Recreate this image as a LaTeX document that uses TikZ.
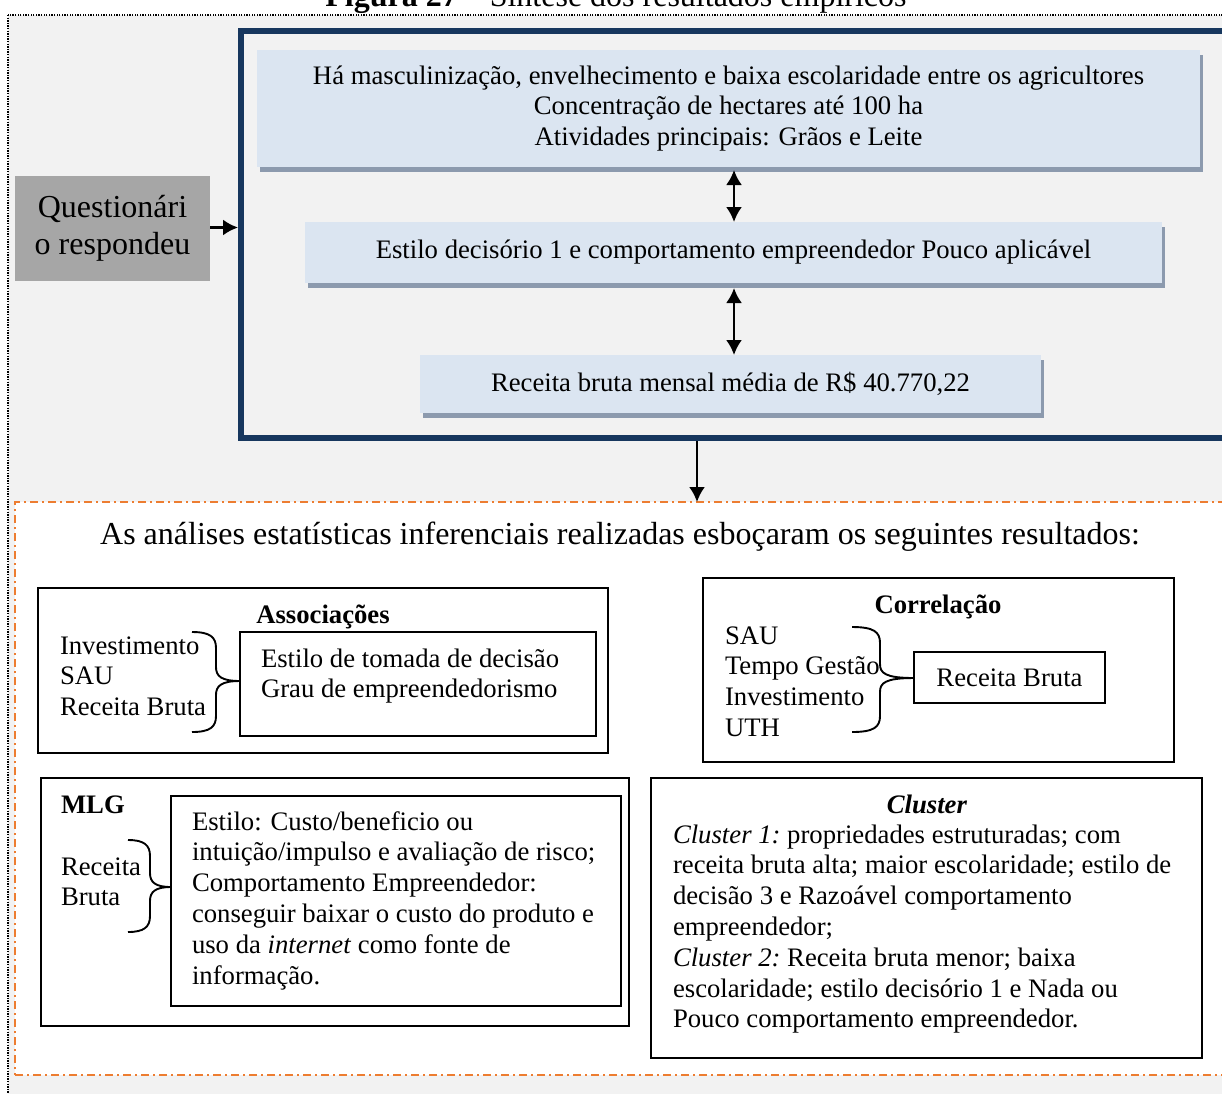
\documentclass[tikz,border=0pt]{standalone}
\usepackage{fontspec}
\setmainfont{Liberation Serif}
\usetikzlibrary{arrows.meta,shadows,calc}

\definecolor{bggray}{HTML}{F2F2F2}
\definecolor{boxblue}{HTML}{DBE5F1}
\definecolor{shadowblue}{HTML}{8C9AAE}
\definecolor{navy}{HTML}{17375E}
\definecolor{questgray}{HTML}{A6A6A6}
\definecolor{dashorange}{HTML}{ED7D31}

% invisible rule that fixes the height of the first line of a text block
\newcommand\topstrut{\vrule height 22pt width 0pt\relax}

% curly brace: left x, spine x, tip x, top y, middle y, bottom y
\newcommand\curlybrace[6]{%
  \draw[bracepath] (#1,#4) .. controls ({#2-6},#4) and (#2,{#4+5}) .. (#2,{#4+16})
    -- (#2,{#5-14}) .. controls (#2,{#5-5}) and ({#2+5},#5) .. (#3,#5)
    .. controls ({#2+5},#5) and (#2,{#5+5}) .. (#2,{#5+14})
    -- (#2,{#6-16}) .. controls (#2,{#6-5}) and ({#2-6},#6) .. (#1,#6);}

\begin{document}
\begin{tikzpicture}[x=1pt,y=-1pt,
  every node/.style={inner sep=0pt, outer sep=0pt},
  body/.style={font=\fontsize{26.7}{30.8}\selectfont},
  bodybold/.style={font=\fontsize{26.7}{30.8}\selectfont\bfseries},
  big/.style={font=\fontsize{32}{37}\selectfont},
  infobox/.style={fill=boxblue, body, align=center,
    general shadow={fill=shadowblue, shadow xshift=3pt, shadow yshift=-5pt}},
  plainbox/.style={draw=black, line width=1.8pt},
  textblock/.style={body, align=left, anchor=north west},
  arr/.style={line width=2.4pt, -{Latex[length=15pt,width=16pt]}},
  dblarr/.style={line width=2.4pt, {Latex[length=15pt,width=16pt]}-{Latex[length=15pt,width=16pt]}},
  bracepath/.style={line width=1.9pt, line join=round}
]
\clip (0,0) rectangle (1222,1093);
\useasboundingbox (0,0) rectangle (1222,1093);

% page background and dotted outer frame
\fill[white] (0,0) rectangle (1222,1093);
\path[fill=bggray, draw=black, line width=1.3pt, dash pattern=on 1.3pt off 1.3pt]
  (8,15) rectangle (1280,1130);

% caption
\node[big, anchor=base] (title) at (616,6) {\textbf{Figura 27} – Síntese dos resultados empíricos};

% navy frame around the descriptive results
\node[draw=navy, line width=6pt, minimum width=1040pt, minimum height=407pt, anchor=north west]
  (frame) at (241,31) {};

\node[fill=questgray, minimum width=195pt, minimum height=105pt, big, align=center]
  (quest) at (112.5,228.5) {Questionári\\o respondeu};

\node[infobox, minimum width=943pt, minimum height=117pt] (facts) at (728.5,108.5)
  {Há masculinização, envelhecimento e baixa escolaridade entre os agricultores\\
   Concentração de hectares até 100 ha\\Atividades principais: Grãos e Leite};
\node[infobox, minimum width=857pt, minimum height=61pt] (style) at (733.5,252.5)
  {Estilo decisório 1 e comportamento empreendedor Pouco aplicável};
\node[infobox, minimum width=621pt, minimum height=58pt] (income) at (730.5,384)
  {Receita bruta mensal média de R\$ 40.770,22};

\coordinate (ax) at (734,0);
\coordinate (dx) at (697,0);

\draw[arr] ([yshift=1pt]quest.east) -- ([yshift=1pt,xshift=-3pt]quest.east -| frame.west);
\draw[dblarr] ([yshift=-3pt]facts.south -| ax) -- (style.north -| ax);
\draw[dblarr] ([yshift=-5pt]style.south -| ax) -- (income.north -| ax);

% inferential results
\node[fill=white, draw=dashorange, line width=1.8pt,
  dash pattern=on 8pt off 4pt on 2pt off 4pt,
  minimum width=1300pt, minimum height=573pt, anchor=north west] (results) at (15,502) {};

\draw[arr] ([yshift=-3pt]frame.south -| dx) -- (results.north -| dx);

\node[big, anchor=base] (heading) at (620,544)
  {As análises estatísticas inferenciais realizadas esboçaram os seguintes resultados:};

% associations
\node[plainbox, minimum width=570pt, minimum height=165pt, anchor=north west] (assocbox) at (38,588) {};
\node[bodybold, anchor=base] (assoctitle) at (323,623) {Associações};
\node[plainbox, minimum width=356pt, minimum height=104pt, anchor=north west] (assocout) at (240,632) {};
\node[textblock] (assocvars) at (60,632) {\topstrut Investimento\\SAU\\Receita Bruta};
\node[textblock] (assoctext) at (261,645) {\topstrut Estilo de tomada de decisão\\Grau de empreendedorismo};
\curlybrace{192}{216}{240}{632}{681}{732}

% correlation
\node[plainbox, minimum width=471pt, minimum height=184pt, anchor=north west] (corrbox) at (703,578) {};
\node[bodybold, anchor=base] (corrtitle) at (938,613) {Correlação};
\node[plainbox, body, minimum width=191pt, minimum height=51pt, anchor=north west] (corrout) at (914,652) {Receita Bruta};
\node[textblock] (corrvars) at (725,622) {\topstrut SAU\\Tempo Gestão\\Investimento\\UTH};
\curlybrace{852}{880}{914}{627}{678}{732}

% generalized linear model
\node[plainbox, minimum width=588pt, minimum height=248pt, anchor=north west] (mlgbox) at (41,778) {};
\node[bodybold, anchor=base west] (mlgtitle) at (61,813) {MLG};
\node[plainbox, minimum width=450pt, minimum height=210pt, anchor=north west] (mlgout) at (171,796) {};
\node[textblock] (mlgvar) at (61,853) {\topstrut Receita\\Bruta};
\node[textblock] (mlgtext) at (192,808) {\topstrut Estilo: Custo/beneficio ou\\
  intuição/impulso e avaliação de risco;\\Comportamento Empreendedor:\\
  conseguir baixar o custo do produto e\\uso da \textit{internet} como fonte de\\informação.};
\curlybrace{128}{150}{171}{840}{887}{932}

% clusters
\node[plainbox, minimum width=551pt, minimum height=280pt, anchor=north west] (clubox) at (651,778) {};
\node[bodybold, anchor=base] (clutitle) at (927,813) {\textit{Cluster}};
\node[textblock] (clutext) at (673,821) {\topstrut\textit{Cluster 1:}\ propriedades estruturadas; com\\
  receita bruta alta; maior escolaridade; estilo de\\decisão 3 e Razoável comportamento\\
  empreendedor;\\\textit{Cluster 2:}\ Receita bruta menor; baixa\\
  escolaridade; estilo decisório 1 e Nada ou\\Pouco comportamento empreendedor.};
\end{tikzpicture}
\end{document}
